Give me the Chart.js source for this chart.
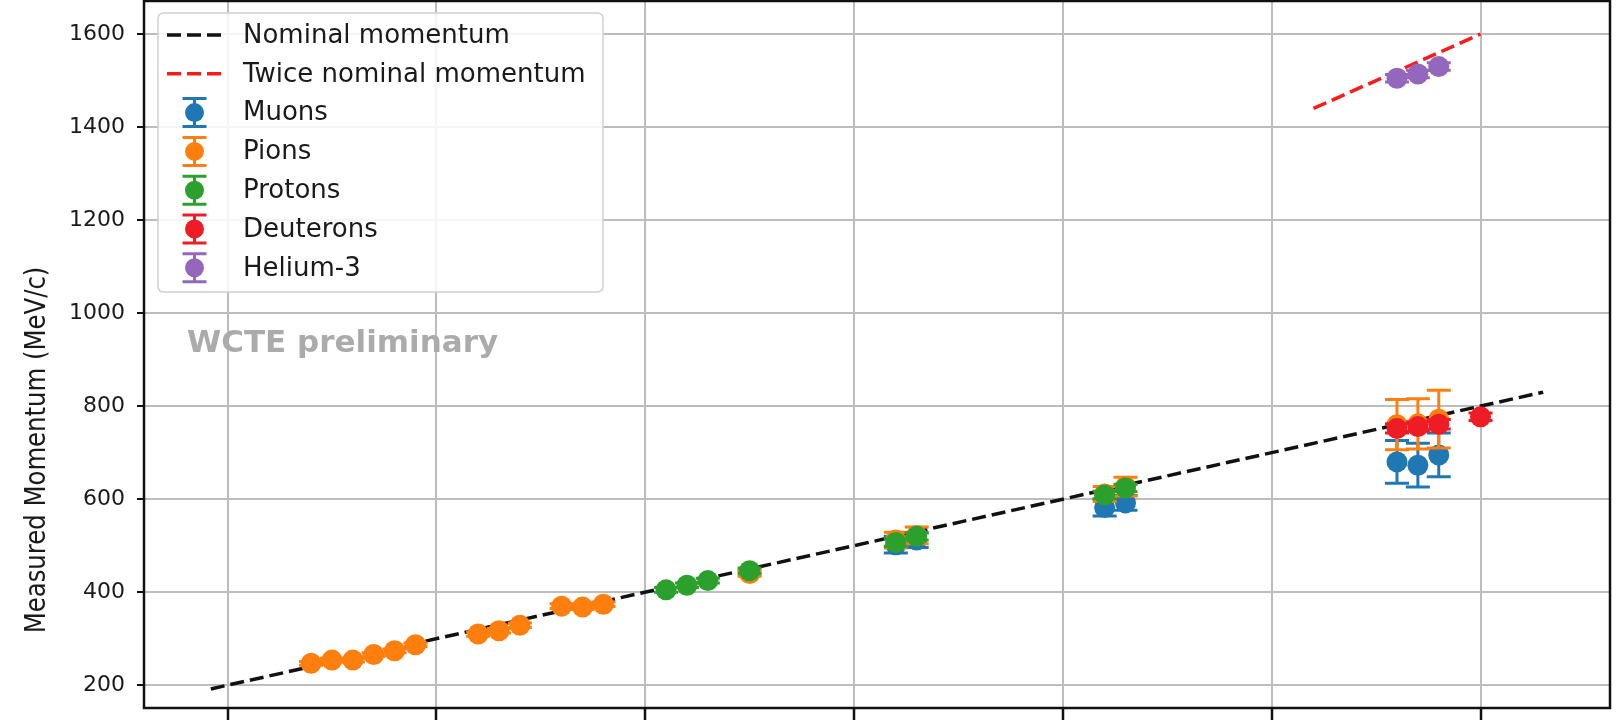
<!DOCTYPE html>
<html><head><meta charset="utf-8">
<script src="https://cdn.jsdelivr.net/npm/chart.js@4.4.1/dist/chart.umd.min.js"></script>
<style>html,body{margin:0;padding:0;background:#fff;overflow:hidden}#wrap{width:1623px;height:721px;position:relative}</style>
</head><body><div id="wrap"><canvas id="c" width="1623" height="721"></canvas></div>
<script>
// ---- data ----
const xTicks = [200, 300, 400, 500, 600, 700, 800];
const yTicks = [200, 400, 600, 800, 1000, 1200, 1400, 1600];
const nominalX = [192, 830];
const nominalY = [192, 830];
const twiceX = [720, 800];
const twiceY = [1440, 1600];
const muonX = [520, 530, 620, 630, 760, 770, 780];
const muonY = [502, 512, 582, 592, 680, 673, 695];
const muonErr = [18, 16, 18, 16, 46, 47, 47];
const pionX = [240, 250, 260, 270, 280, 290, 320, 330, 340, 360, 370, 380, 450, 520, 530, 620, 630, 760, 770, 780];
const pionY = [247, 254, 254, 266, 274, 287, 310, 317, 329, 370, 368, 374, 440, 512, 522, 611, 627, 760, 762, 772];
const pionErr = [4, 4, 4, 4, 4, 4, 5, 5, 5, 5, 5, 5, 6, 17, 18, 16, 20, 54, 54, 62];
const protonX = [410, 420, 430, 450, 520, 530, 620, 630];
const protonY = [405, 415, 425, 446, 507, 520, 609, 624];
const protonErr = [5, 5, 5, 6, 8, 8, 8, 8];
const deutX = [760, 770, 780, 800];
const deutY = [752, 756, 761, 777];
const deutErr = [10, 10, 10, 8];
const heX = [760, 770, 780];
const heY = [1505, 1514, 1530];
const heErr = [8, 8, 8];
const yTitle = 'Measured Momentum (MeV/c)';
const watermark = 'WCTE preliminary';

const C_MU = '#1f77b4', C_PI = '#ff7f0e', C_PR = '#2ca02c', C_DE = '#ee1c25', C_HE = '#9467bd';
const FONT = 'DejaVu Sans';

function pts(xs, ys) { return xs.map((x, i) => ({x: x, y: ys[i]})); }
function errDs(label, xs, ys, errs, color, order) {
  return { label: label, data: pts(xs, ys), errors: errs, backgroundColor: color, borderColor: color,
    pointRadius: 10.5, pointHoverRadius: 10.5, pointBorderWidth: 0, showLine: false, order: order, kind: 'err' };
}
function lineDs(label, xs, ys, color, order) {
  return { label: label, data: pts(xs, ys), borderColor: color, backgroundColor: color, showLine: true,
    pointRadius: 0, borderWidth: 3.5, borderDash: [14, 6], order: order, kind: 'line' };
}

const datasets = [
  lineDs('Nominal momentum', nominalX, nominalY, '#111', 7),
  lineDs('Twice nominal momentum', twiceX, twiceY, '#ff1a1a', 6),
  errDs('Muons', muonX, muonY, muonErr, C_MU, 5),
  errDs('Pions', pionX, pionY, pionErr, C_PI, 4),
  errDs('Protons', protonX, protonY, protonErr, C_PR, 3),
  errDs('Deuterons', deutX, deutY, deutErr, C_DE, 2),
  errDs('Helium-3', heX, heY, heErr, C_HE, 1)
];

const errPlugin = {
  id: 'errbars',
  beforeDatasetDraw(chart, args) {
    const ds = chart.data.datasets[args.index];
    if (!ds.errors) return;
    const xs = chart.scales.x, ys = chart.scales.y, ctx = chart.ctx, cap = 12;
    ctx.save();
    ctx.strokeStyle = ds.borderColor; ctx.lineWidth = 3;
    ds.data.forEach((p, i) => {
      const e = ds.errors[i];
      const px = xs.getPixelForValue(p.x);
      const y1 = ys.getPixelForValue(p.y - e), y2 = ys.getPixelForValue(p.y + e);
      ctx.beginPath();
      ctx.moveTo(px, y1); ctx.lineTo(px, y2);
      ctx.moveTo(px - cap, y1); ctx.lineTo(px + cap, y1);
      ctx.moveTo(px - cap, y2); ctx.lineTo(px + cap, y2);
      ctx.stroke();
    });
    ctx.restore();
  }
};

const framePlugin = {
  id: 'frame',
  afterDatasetsDraw(chart) {
    const a = chart.chartArea, ctx = chart.ctx;
    ctx.save();
    ctx.fillStyle = '#ababab';
    ctx.font = 'bold 31px "' + FONT + '"';
    ctx.textAlign = 'left'; ctx.textBaseline = 'alphabetic';
    ctx.fillText(watermark, a.left + 43, 352);
    ctx.strokeStyle = '#111'; ctx.lineWidth = 2.5;
    ctx.strokeRect(a.left, a.top, a.right - a.left, a.bottom - a.top);
    ctx.restore();
  },
  afterDraw(chart) {
    const ctx = chart.ctx;
    ctx.save();
    ctx.translate(45, 450);
    ctx.rotate(-Math.PI / 2);
    ctx.scale(0.87, 1);
    ctx.fillStyle = '#1a1a1a';
    ctx.font = '28px "' + FONT + '"';
    ctx.textAlign = 'center'; ctx.textBaseline = 'alphabetic';
    ctx.fillText(yTitle, 0, 0);
    ctx.restore();
  }
};

const legendPlugin = {
  id: 'customLegend',
  afterDraw(chart) {
    const a = chart.chartArea, ctx = chart.ctx;
    const x0 = a.left + 14, y0 = 13, w = 445, h = 279, r = 6;
    ctx.save();
    ctx.beginPath();
    ctx.moveTo(x0 + r, y0); ctx.lineTo(x0 + w - r, y0); ctx.quadraticCurveTo(x0 + w, y0, x0 + w, y0 + r);
    ctx.lineTo(x0 + w, y0 + h - r); ctx.quadraticCurveTo(x0 + w, y0 + h, x0 + w - r, y0 + h);
    ctx.lineTo(x0 + r, y0 + h); ctx.quadraticCurveTo(x0, y0 + h, x0, y0 + h - r);
    ctx.lineTo(x0, y0 + r); ctx.quadraticCurveTo(x0, y0, x0 + r, y0); ctx.closePath();
    ctx.fillStyle = 'rgba(255,255,255,0.85)'; ctx.fill();
    ctx.strokeStyle = '#d0d0d0'; ctx.lineWidth = 1.5; ctx.stroke();
    ctx.font = '26px "' + FONT + '"'; ctx.textBaseline = 'middle'; ctx.textAlign = 'left';
    chart.data.datasets.forEach((ds, i) => {
      const cy = y0 + 22 + i * 38.8;
      const hx0 = x0 + 9, hx1 = x0 + 63, hc = x0 + 36.5;
      if (ds.kind === 'line') {
        ctx.strokeStyle = ds.borderColor; ctx.lineWidth = 3.5; ctx.setLineDash([14, 6]);
        ctx.beginPath(); ctx.moveTo(hx0, cy); ctx.lineTo(hx1, cy); ctx.stroke(); ctx.setLineDash([]);
      } else {
        ctx.strokeStyle = ds.borderColor; ctx.lineWidth = 3;
        ctx.beginPath();
        ctx.moveTo(hc, cy - 14); ctx.lineTo(hc, cy + 14);
        ctx.moveTo(hc - 12, cy - 14); ctx.lineTo(hc + 12, cy - 14);
        ctx.moveTo(hc - 12, cy + 14); ctx.lineTo(hc + 12, cy + 14);
        ctx.stroke();
        ctx.fillStyle = ds.borderColor;
        ctx.beginPath(); ctx.arc(hc, cy, 9.5, 0, Math.PI * 2); ctx.fill();
      }
      ctx.fillStyle = '#1a1a1a';
      ctx.fillText(ds.label, x0 + 85, cy + 1);
    });
    ctx.restore();
  }
};

new Chart(document.getElementById('c'), {
  type: 'scatter',
  data: { datasets: datasets },
  plugins: [errPlugin, framePlugin, legendPlugin],
  options: {
    responsive: false, animation: false, devicePixelRatio: 1,
    layout: { autoPadding: false, padding: { left: 0, top: 1, right: 13, bottom: 0 } },
    plugins: { legend: { display: false }, tooltip: { enabled: false } },
    scales: {
      x: {
        type: 'linear', min: 160, max: 862,
        afterBuildTicks: s => { s.ticks = xTicks.map(v => ({value: v})); },
        afterFit: s => { s.height = 13; s.paddingLeft = 0; s.paddingRight = 0; },
        ticks: { display: false },
        grid: { color: '#bdbdbd', lineWidth: 2, drawTicks: true, tickLength: 12, tickColor: '#111', tickWidth: 2.5 },
        border: { display: false }
      },
      y: {
        type: 'linear', min: 151, max: 1671,
        afterBuildTicks: s => { s.ticks = yTicks.map(v => ({value: v})); },
        afterFit: s => { s.width = 144; s.paddingTop = 0; s.paddingBottom = 0; },
        ticks: { color: '#1a1a1a', font: { family: FONT, size: 22 }, padding: 12, callback: v => String(v) },
        grid: { color: '#bdbdbd', lineWidth: 2, drawTicks: true, tickLength: 7, tickColor: '#111', tickWidth: 2 },
        border: { display: false },
        title: { display: false }
      }
    }
  }
});
</script></body></html>
